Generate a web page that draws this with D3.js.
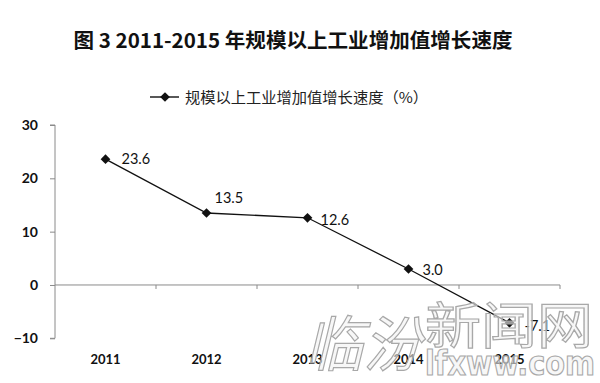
<!DOCTYPE html>
<html><head><meta charset="utf-8">
<script src="https://cdn.jsdelivr.net/npm/d3@7"></script>
<style>
html,body{margin:0;padding:0;background:#fff;}
svg{display:block;}
</style></head>
<body>
<svg id="chart" width="600" height="383"></svg>
<script>
const titleText = "图 3 2011-2015 年规模以上工业增加值增长速度";
const seriesName = "规模以上工业增加值增长速度（%）";
const categories = ["2011", "2012", "2013", "2014", "2015"];
const values = [23.6, 13.5, 12.6, 3.0, -7.1];
const valueLabels = ["23.6", "13.5", "12.6", "3.0", "-7.1"];
const yTicks = [-10, 0, 10, 20, 30];
// label offsets (dx, dy) relative to the point
const labelOffsets = [[16, 5], [8, -10], [13, 7], [14, 6], [15, 8]];

const svg = d3.select("#chart");
const x = d3.scaleBand().domain(categories).range([55, 560]).paddingInner(0).paddingOuter(0);
const y = d3.scaleLinear().domain([-10, 30]).range([338.3, 125]);
const axisColor = "#8a8a8a";
const numFont = "Lato, 'Open Sans', sans-serif";

// Title
svg.append("text").attr("x", 293).attr("y", 48).attr("text-anchor", "middle")
  .attr("font-family", "'Noto Sans CJK SC', sans-serif").attr("font-weight", "bold")
  .attr("font-size", 20).attr("fill", "#111").attr("textLength", 439).attr("lengthAdjust", "spacingAndGlyphs")
  .text(titleText);

// Legend
const lg = svg.append("g");
lg.append("line").attr("x1", 150).attr("x2", 179).attr("y1", 97).attr("y2", 97).attr("stroke", "#111").attr("stroke-width", 1.4);
lg.append("path").attr("d", d3.symbol(d3.symbolDiamond2, 60)()).attr("transform", "translate(165,97)").attr("fill", "#111");
lg.append("text").attr("x", 185).attr("y", 103).attr("font-family", "'Noto Sans CJK SC', sans-serif")
  .attr("font-size", 15).attr("fill", "#222").attr("textLength", 243).attr("lengthAdjust", "spacingAndGlyphs")
  .text(seriesName);

// Y axis
const yAxis = d3.axisLeft(y).tickValues(yTicks).tickSize(5).tickPadding(12).tickFormat(d3.format("d"));
const gy = svg.append("g").attr("transform", "translate(55,0)").call(yAxis);
gy.select(".domain").attr("stroke", axisColor).attr("d", `M-5,${y(30)}H0V${y(-10)}H-5`);
gy.selectAll(".tick line").attr("stroke", axisColor);
gy.selectAll(".tick text").attr("font-family", numFont).attr("font-weight", "bold").attr("font-size", 14).attr("fill", "#111");

// X axis at zero
const boundaries = categories.map(c => x(c)).concat([x.range()[1]]);
const gx = svg.append("g");
gx.append("line").attr("x1", 55).attr("x2", 560).attr("y1", y(0)).attr("y2", y(0)).attr("stroke", axisColor).attr("stroke-width", 1);
gx.selectAll("line.t").data(boundaries.slice(1)).join("line").attr("class", "t")
  .attr("x1", d => d).attr("x2", d => d).attr("y1", y(0)).attr("y2", y(0) + 4).attr("stroke", axisColor);
svg.append("g").selectAll("text").data(categories).join("text")
  .attr("x", d => x(d) + x.bandwidth() / 2).attr("y", 364).attr("text-anchor", "middle")
  .attr("font-family", numFont).attr("font-weight", "bold").attr("font-size", 13).attr("fill", "#111")
  .text(d => d);

// Line
const pts = categories.map((c, i) => [x(c) + x.bandwidth() / 2, y(values[i])]);
svg.append("path").attr("d", d3.line()(pts)).attr("fill", "none").attr("stroke", "#111").attr("stroke-width", 1.3);
svg.append("g").selectAll("path").data(pts).join("path")
  .attr("d", d3.symbol(d3.symbolDiamond2, 60)()).attr("transform", d => `translate(${d[0]},${d[1]})`).attr("fill", "#111");
svg.append("g").selectAll("text").data(pts).join("text")
  .attr("x", (d, i) => d[0] + labelOffsets[i][0]).attr("y", (d, i) => d[1] + labelOffsets[i][1])
  .attr("font-family", numFont).attr("font-size", 14.5).attr("fill", "#111")
  .text((d, i) => valueLabels[i]);

// Watermark
const wm = svg.append("g").attr("fill", "#f2f2f2").attr("fill-opacity", 0.6).attr("stroke", "#a8a8a8").attr("stroke-width", 1.2);
wm.append("text").attr("x", 305).attr("y", 366).attr("font-family", "'Noto Sans CJK SC', sans-serif")
  .attr("font-size", 60).attr("font-style", "italic").attr("textLength", 116).attr("lengthAdjust", "spacingAndGlyphs").text("临汾");
wm.append("text").attr("x", 425).attr("y", 344).attr("font-family", "'Noto Sans CJK SC', sans-serif")
  .attr("font-size", 50).attr("textLength", 168).attr("lengthAdjust", "spacingAndGlyphs").text("新闻网");
wm.append("text").attr("x", 425).attr("y", 375).attr("font-family", "'DejaVu Sans', sans-serif").attr("font-weight", "bold")
  .attr("font-size", 33).attr("textLength", 170).attr("lengthAdjust", "spacingAndGlyphs").text("lfxww.com");
</script>
</body></html>
